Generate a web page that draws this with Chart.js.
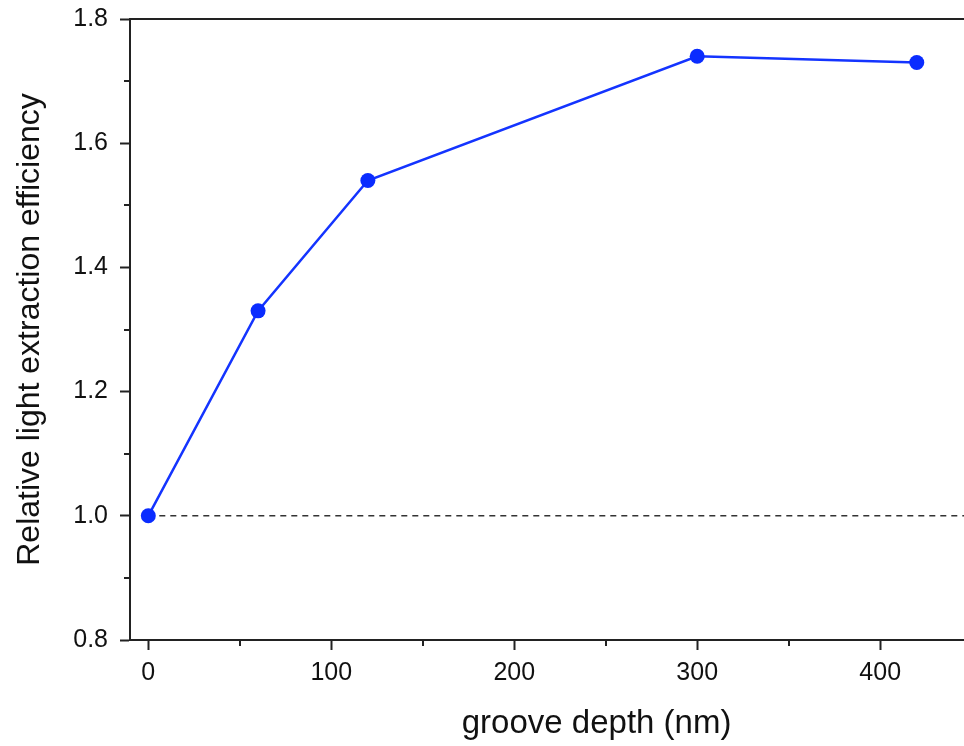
<!DOCTYPE html>
<html>
<head>
<meta charset="utf-8">
<script src="https://cdn.jsdelivr.net/npm/chart.js@4.4.0/dist/chart.umd.min.js"></script>
<style>
    html, body { margin: 0; padding: 0; background: #fff; overflow: hidden; }
    #wrap { width: 964px; height: 746px; overflow: hidden; }
    #chart { display: block; margin-top: -8px; }
</style>
</head>
<body>
<div id="wrap"><canvas id="chart" width="1092" height="754"></canvas></div>
<script>
// Data
const grooveDepth = [0, 60, 120, 300, 420];
const efficiency = [1.0, 1.33, 1.54, 1.74, 1.73];
const referenceLevel = 1.0;
const xTicks = [0, 100, 200, 300, 400, 500];
const yTicks = [0.8, 1.0, 1.2, 1.4, 1.6, 1.8];

const xMin = -10, xMax = 500;
const yMin = 0.8, yMax = 1.8;
const axisColor = '#222';
const fontFamily = "'Liberation Sans', Arial, sans-serif";

// Draw the top frame line and the minor ticks (halfway between the major ones)
const frameAndMinorTicks = {
    id: 'frameAndMinorTicks',
    afterDraw(chart) {
        const { ctx, chartArea, scales } = chart;
        ctx.save();
        ctx.strokeStyle = axisColor;
        ctx.lineWidth = 2;
        ctx.beginPath();
        ctx.moveTo(chartArea.left - 1, chartArea.top);
        ctx.lineTo(chartArea.right, chartArea.top);
        ctx.stroke();

        ctx.beginPath();
        for (let i = 0; i < xTicks.length - 1; i++) {
            const px = Math.round(scales.x.getPixelForValue((xTicks[i] + xTicks[i + 1]) / 2));
            ctx.moveTo(px, chartArea.bottom);
            ctx.lineTo(px, chartArea.bottom + 6);
        }
        for (let i = 0; i < yTicks.length - 1; i++) {
            const py = Math.round(scales.y.getPixelForValue((yTicks[i] + yTicks[i + 1]) / 2));
            ctx.moveTo(chartArea.left, py);
            ctx.lineTo(chartArea.left - 6, py);
        }
        ctx.stroke();
        ctx.restore();
    }
};

new Chart(document.getElementById('chart'), {
    type: 'scatter',
    data: {
        datasets: [
            {
                label: 'Relative light extraction efficiency',
                data: grooveDepth.map((d, i) => ({ x: d, y: efficiency[i] })),
                showLine: true,
                borderColor: '#1434ff',
                backgroundColor: '#0a2cff',
                borderWidth: 2.5,
                pointRadius: 7.5,
                pointHoverRadius: 7.5,
                pointBorderWidth: 0,
                order: 1
            },
            {
                label: 'reference',
                data: [{ x: 0, y: referenceLevel }, { x: xMax, y: referenceLevel }],
                showLine: true,
                borderColor: '#333',
                borderWidth: 1.5,
                borderDash: [6, 5],
                pointRadius: 0,
                order: 2
            }
        ]
    },
    options: {
        responsive: false,
        animation: false,
        devicePixelRatio: 1,
        layout: { autoPadding: false, padding: 0 },
        plugins: {
            legend: { display: false },
            tooltip: { enabled: false }
        },
        scales: {
            x: {
                type: 'linear',
                min: xMin,
                max: xMax,
                afterFit: s => { s.height = 106; },
                afterBuildTicks: s => { s.ticks = xTicks.map(v => ({ value: v })); },
                ticks: {
                    padding: 8,
                    color: '#111',
                    font: { family: fontFamily, size: 25 }
                },
                grid: {
                    drawOnChartArea: false,
                    drawTicks: true,
                    tickLength: 10,
                    tickWidth: 2,
                    tickColor: axisColor
                },
                border: { display: true, color: axisColor, width: 2 },
                title: {
                    display: true,
                    text: 'groove depth (nm)',
                    color: '#111',
                    font: { family: fontFamily, size: 33 },
                    padding: { top: 0, bottom: 2 }
                }
            },
            y: {
                min: yMin,
                max: yMax,
                afterFit: s => { s.width = 130; },
                afterBuildTicks: s => { s.ticks = yTicks.map(v => ({ value: v })); },
                ticks: {
                    padding: 12,
                    color: '#111',
                    font: { family: fontFamily, size: 25 },
                    callback: v => v.toFixed(1)
                },
                grid: {
                    drawOnChartArea: false,
                    drawTicks: true,
                    tickLength: 10,
                    tickWidth: 2,
                    tickColor: axisColor
                },
                border: { display: true, color: axisColor, width: 2 },
                title: {
                    display: true,
                    text: 'Relative light extraction efficiency',
                    color: '#111',
                    font: { family: fontFamily, size: 32 },
                    padding: { top: 11, bottom: 0 }
                }
            }
        }
    },
    plugins: [frameAndMinorTicks]
});
</script>
</body>
</html>
